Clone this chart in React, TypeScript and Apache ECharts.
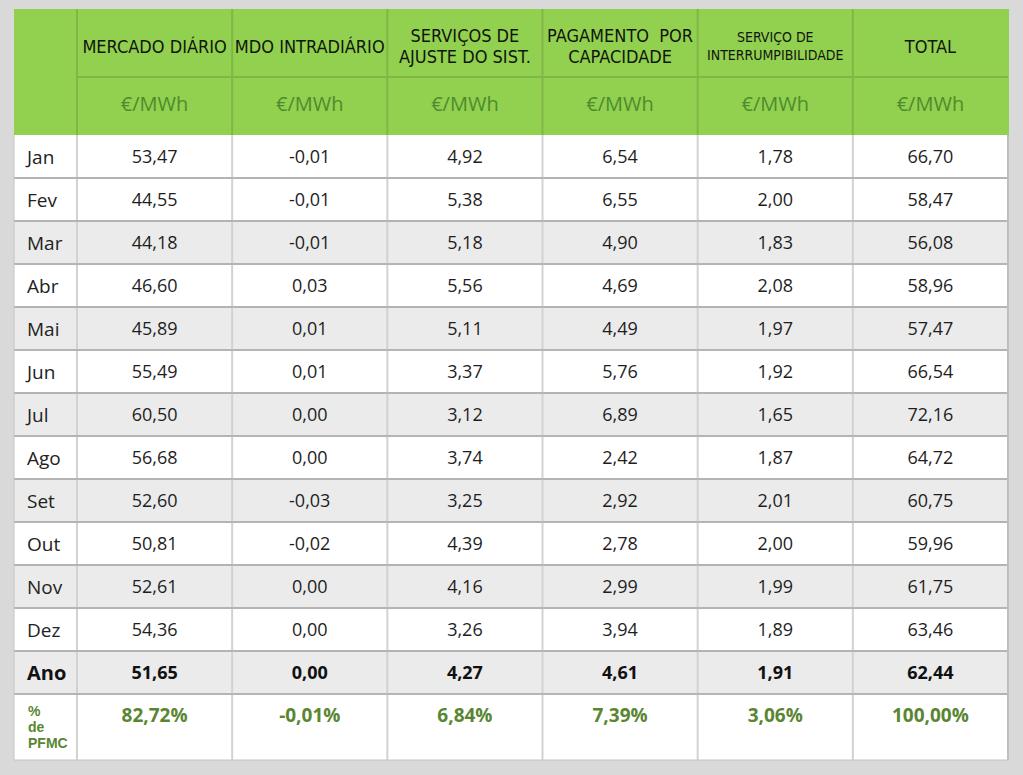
import React, { useEffect, useRef } from 'react';
import * as echarts from 'echarts';

const months = ['Jan', 'Fev', 'Mar', 'Abr', 'Mai', 'Jun', 'Jul', 'Ago', 'Set', 'Out', 'Nov', 'Dez', 'Ano'];
const columnNames = [
  'MERCADO DIÁRIO',
  'MDO INTRADIÁRIO',
  'SERVIÇOS DE\nAJUSTE DO SIST.',
  'PAGAMENTO  POR\nCAPACIDADE',
  'SERVIÇO DE\nINTERRUMPIBILIDADE',
  'TOTAL',
];
const unitLabel = '€/MWh';
const mercadoDiario = [53.47, 44.55, 44.18, 46.6, 45.89, 55.49, 60.5, 56.68, 52.6, 50.81, 52.61, 54.36, 51.65];
const mdoIntradiario = [-0.01, -0.01, -0.01, 0.03, 0.01, 0.01, 0.0, 0.0, -0.03, -0.02, 0.0, 0.0, 0.0];
const servicosAjuste = [4.92, 5.38, 5.18, 5.56, 5.11, 3.37, 3.12, 3.74, 3.25, 4.39, 4.16, 3.26, 4.27];
const pagamentoCapacidade = [6.54, 6.55, 4.9, 4.69, 4.49, 5.76, 6.89, 2.42, 2.92, 2.78, 2.99, 3.94, 4.61];
const interrumpibilidade = [1.78, 2.0, 1.83, 2.08, 1.97, 1.92, 1.65, 1.87, 2.01, 2.0, 1.99, 1.89, 1.91];
const total = [66.7, 58.47, 56.08, 58.96, 57.47, 66.54, 72.16, 64.72, 60.75, 59.96, 61.75, 63.46, 62.44];
const pctRowLabel = '%\nde\nPFMC';
const pctPFMC = [82.72, -0.01, 6.84, 7.39, 3.06, 100.0];

const fmt = (v: number) => v.toFixed(2).replace('.', ',');

const GREEN = '#92d050';
const GREEN_LINE = '#80b746';
const UNIT_GREEN = '#4d8c2c';
const PCT_GREEN = '#5a8632';
const ROW_GRAY = '#ebebeb';
const H_LINE = '#b4b4b4';
const V_LINE = '#d2d2d2';
const FIRST_COL_W = 63;
const BODY_FONT = '"Open Sans", "Noto Sans", sans-serif';
const HEAD_FONT = '"Liberation Sans Narrow", "DejaVu Sans Condensed", sans-serif';
const PCT_LABEL_FONT = '"Liberation Sans", Arial, sans-serif';

export default function App() {
  const ref = useRef<HTMLDivElement>(null);
  useEffect(() => {
    const chart = echarts.init(ref.current!, null, { renderer: 'svg' });
    const columns = [mercadoDiario, mdoIntradiario, servicosAjuste, pagamentoCapacidade, interrumpibilidade, total];
    const cellData: number[][] = [];
    months.forEach((_m, r) => columns.forEach((col, c) => cellData.push([c, r, col[r]])));
    const colIdx = columnNames.map((_n, i) => String(i));

    const grids = [
      { left: 77, right: 15, top: 9, height: 126 },
      { left: 77, right: 15, top: 135, height: 559 },
      { left: 77, right: 15, top: 694, height: 66 },
    ];

    const option: any = {
      animation: false,
      backgroundColor: '#d9d9d9',
      grid: grids,
      xAxis: [0, 1, 2].map((g) => ({
        type: 'category',
        gridIndex: g,
        data: colIdx,
        show: false,
      })),
      yAxis: [
        { type: 'category', gridIndex: 0, data: [''], show: false },
        {
          type: 'category',
          gridIndex: 1,
          data: months,
          inverse: true,
          z: 5,
          axisLine: { show: false },
          axisTick: { show: false },
          splitLine: { show: false },
          axisLabel: {
            align: 'left',
            margin: 50,
            fontSize: 19,
            fontFamily: BODY_FONT,
            color: '#222',
            formatter: (v: string) => (v === 'Ano' ? '{b|' + v + '}' : v),
            rich: { b: { fontSize: 20, fontWeight: 'bold', fontFamily: BODY_FONT, color: '#111' } },
          },
        },
        {
          type: 'category',
          gridIndex: 2,
          data: [pctRowLabel],
          z: 5,
          axisLine: { show: false },
          axisTick: { show: false },
          splitLine: { show: false },
          axisLabel: {
            align: 'left',
            margin: 49,
            fontSize: 14,
            lineHeight: 16,
            padding: [0, 0, 18, 0],
            fontWeight: 'bold',
            fontFamily: PCT_LABEL_FONT,
            color: PCT_GREEN,
          },
        },
      ],
      series: [
        {
          type: 'custom',
          xAxisIndex: 0,
          yAxisIndex: 0,
          silent: true,
          z: 1,
          data: columnNames.map((_n, i) => [i, 0]),
          renderItem: (_params: any, api: any) => {
            const c = api.value(0);
            const p = api.coord([c, 0]);
            const s = api.size([1, 1]);
            const x0 = p[0] - s[0] / 2;
            const top = p[1] - s[1] / 2;
            const children: any[] = [
              { type: 'rect', shape: { x: x0, y: top, width: s[0] + 1, height: s[1] }, style: { fill: GREEN }, z2: 0 },
              { type: 'line', shape: { x1: x0, y1: top, x2: x0, y2: top + s[1] }, style: { stroke: GREEN_LINE, lineWidth: 2 }, z2: 10 },
              { type: 'line', shape: { x1: x0, y1: top + 68, x2: x0 + s[0], y2: top + 68 }, style: { stroke: GREEN_LINE, lineWidth: 2 }, z2: 10 },
              {
                type: 'text', z2: 20,
                style: {
                  text: columnNames[c], x: p[0], y: top + 37, align: 'center', verticalAlign: 'middle',
                  fontSize: c === 4 ? 14 : 18, lineHeight: c === 4 ? 18 : 21,
                  fontFamily: HEAD_FONT, fill: '#10160c',
                },
              },
              {
                type: 'text', z2: 20,
                style: {
                  text: unitLabel, x: p[0], y: top + 94, align: 'center', verticalAlign: 'middle',
                  fontSize: 20, fontFamily: BODY_FONT, fill: UNIT_GREEN,
                },
              },
            ];
            if (c === 0) {
              children.push({ type: 'rect', shape: { x: x0 - FIRST_COL_W, y: top, width: FIRST_COL_W, height: s[1] }, style: { fill: GREEN }, z2: 0 });
            }
            return { type: 'group', children };
          },
        },
        {
          type: 'custom',
          xAxisIndex: 1,
          yAxisIndex: 1,
          silent: true,
          z: 1,
          data: cellData,
          renderItem: (_params: any, api: any) => {
            const c = api.value(0);
            const r = api.value(1);
            const v = api.value(2);
            const p = api.coord([c, r]);
            const s = api.size([1, 1]);
            const x0 = p[0] - s[0] / 2;
            const y0 = p[1] - s[1] / 2;
            const bg = r >= 2 && r % 2 === 0 ? ROW_GRAY : '#ffffff';
            const left = c === 0 ? x0 - FIRST_COL_W : x0;
            const children: any[] = [
              { type: 'rect', shape: { x: left, y: y0, width: x0 + s[0] - left + 1, height: s[1] }, style: { fill: bg }, z2: 0 },
              { type: 'line', shape: { x1: x0, y1: y0, x2: x0, y2: y0 + s[1] }, style: { stroke: V_LINE, lineWidth: 2 }, z2: 5 },
              { type: 'line', shape: { x1: left, y1: y0 + s[1], x2: x0 + s[0], y2: y0 + s[1] }, style: { stroke: H_LINE, lineWidth: 2 }, z2: 10 },
              {
                type: 'text', z2: 20,
                style: {
                  text: fmt(v), x: p[0], y: p[1] - 1, align: 'center', verticalAlign: 'middle',
                  fontSize: 18, fontWeight: r === 12 ? 'bold' : 'normal', fontFamily: BODY_FONT,
                  fill: r === 12 ? '#111' : '#1e1e1e',
                },
              },
            ];
            if (c === 0) {
              children.push({ type: 'line', shape: { x1: left, y1: y0, x2: left, y2: y0 + s[1] }, style: { stroke: '#c4c4c4', lineWidth: 1 }, z2: 10 });
            }
            if (c === 5) {
              children.push({ type: 'line', shape: { x1: x0 + s[0], y1: y0, x2: x0 + s[0], y2: y0 + s[1] }, style: { stroke: '#bdbdbd', lineWidth: 2 }, z2: 10 });
            }
            return { type: 'group', children };
          },
        },
        {
          type: 'custom',
          xAxisIndex: 2,
          yAxisIndex: 2,
          silent: true,
          z: 1,
          data: pctPFMC.map((v, i) => [i, 0, v]),
          renderItem: (_params: any, api: any) => {
            const c = api.value(0);
            const v = api.value(2);
            const p = api.coord([c, 0]);
            const s = api.size([1, 1]);
            const x0 = p[0] - s[0] / 2;
            const y0 = p[1] - s[1] / 2;
            const left = c === 0 ? x0 - FIRST_COL_W : x0;
            const children: any[] = [
              { type: 'rect', shape: { x: left, y: y0, width: x0 + s[0] - left + 1, height: s[1] }, style: { fill: '#ffffff' }, z2: 0 },
              { type: 'line', shape: { x1: x0, y1: y0, x2: x0, y2: y0 + s[1] }, style: { stroke: V_LINE, lineWidth: 2 }, z2: 5 },
              { type: 'line', shape: { x1: left, y1: y0 + s[1], x2: x0 + s[0], y2: y0 + s[1] }, style: { stroke: '#c4c4c4', lineWidth: 1 }, z2: 10 },
              {
                type: 'text', z2: 20,
                style: {
                  text: fmt(v) + '%', x: p[0], y: y0 + 21, align: 'center', verticalAlign: 'middle',
                  fontSize: 19, fontWeight: 'bold', fontFamily: BODY_FONT, fill: PCT_GREEN,
                },
              },
            ];
            if (c === 0) {
              children.push({ type: 'line', shape: { x1: left, y1: y0, x2: left, y2: y0 + s[1] }, style: { stroke: '#c4c4c4', lineWidth: 1 }, z2: 10 });
            }
            if (c === 5) {
              children.push({ type: 'line', shape: { x1: x0 + s[0], y1: y0, x2: x0 + s[0], y2: y0 + s[1] }, style: { stroke: '#bdbdbd', lineWidth: 2 }, z2: 10 });
            }
            return { type: 'group', children };
          },
        },
      ],
    };
    chart.setOption(option);
    return () => chart.dispose();
  }, []);
  return <div ref={ref} style={{ position: 'fixed', left: 0, top: 0, width: 1023, height: 775 }} />;
}
